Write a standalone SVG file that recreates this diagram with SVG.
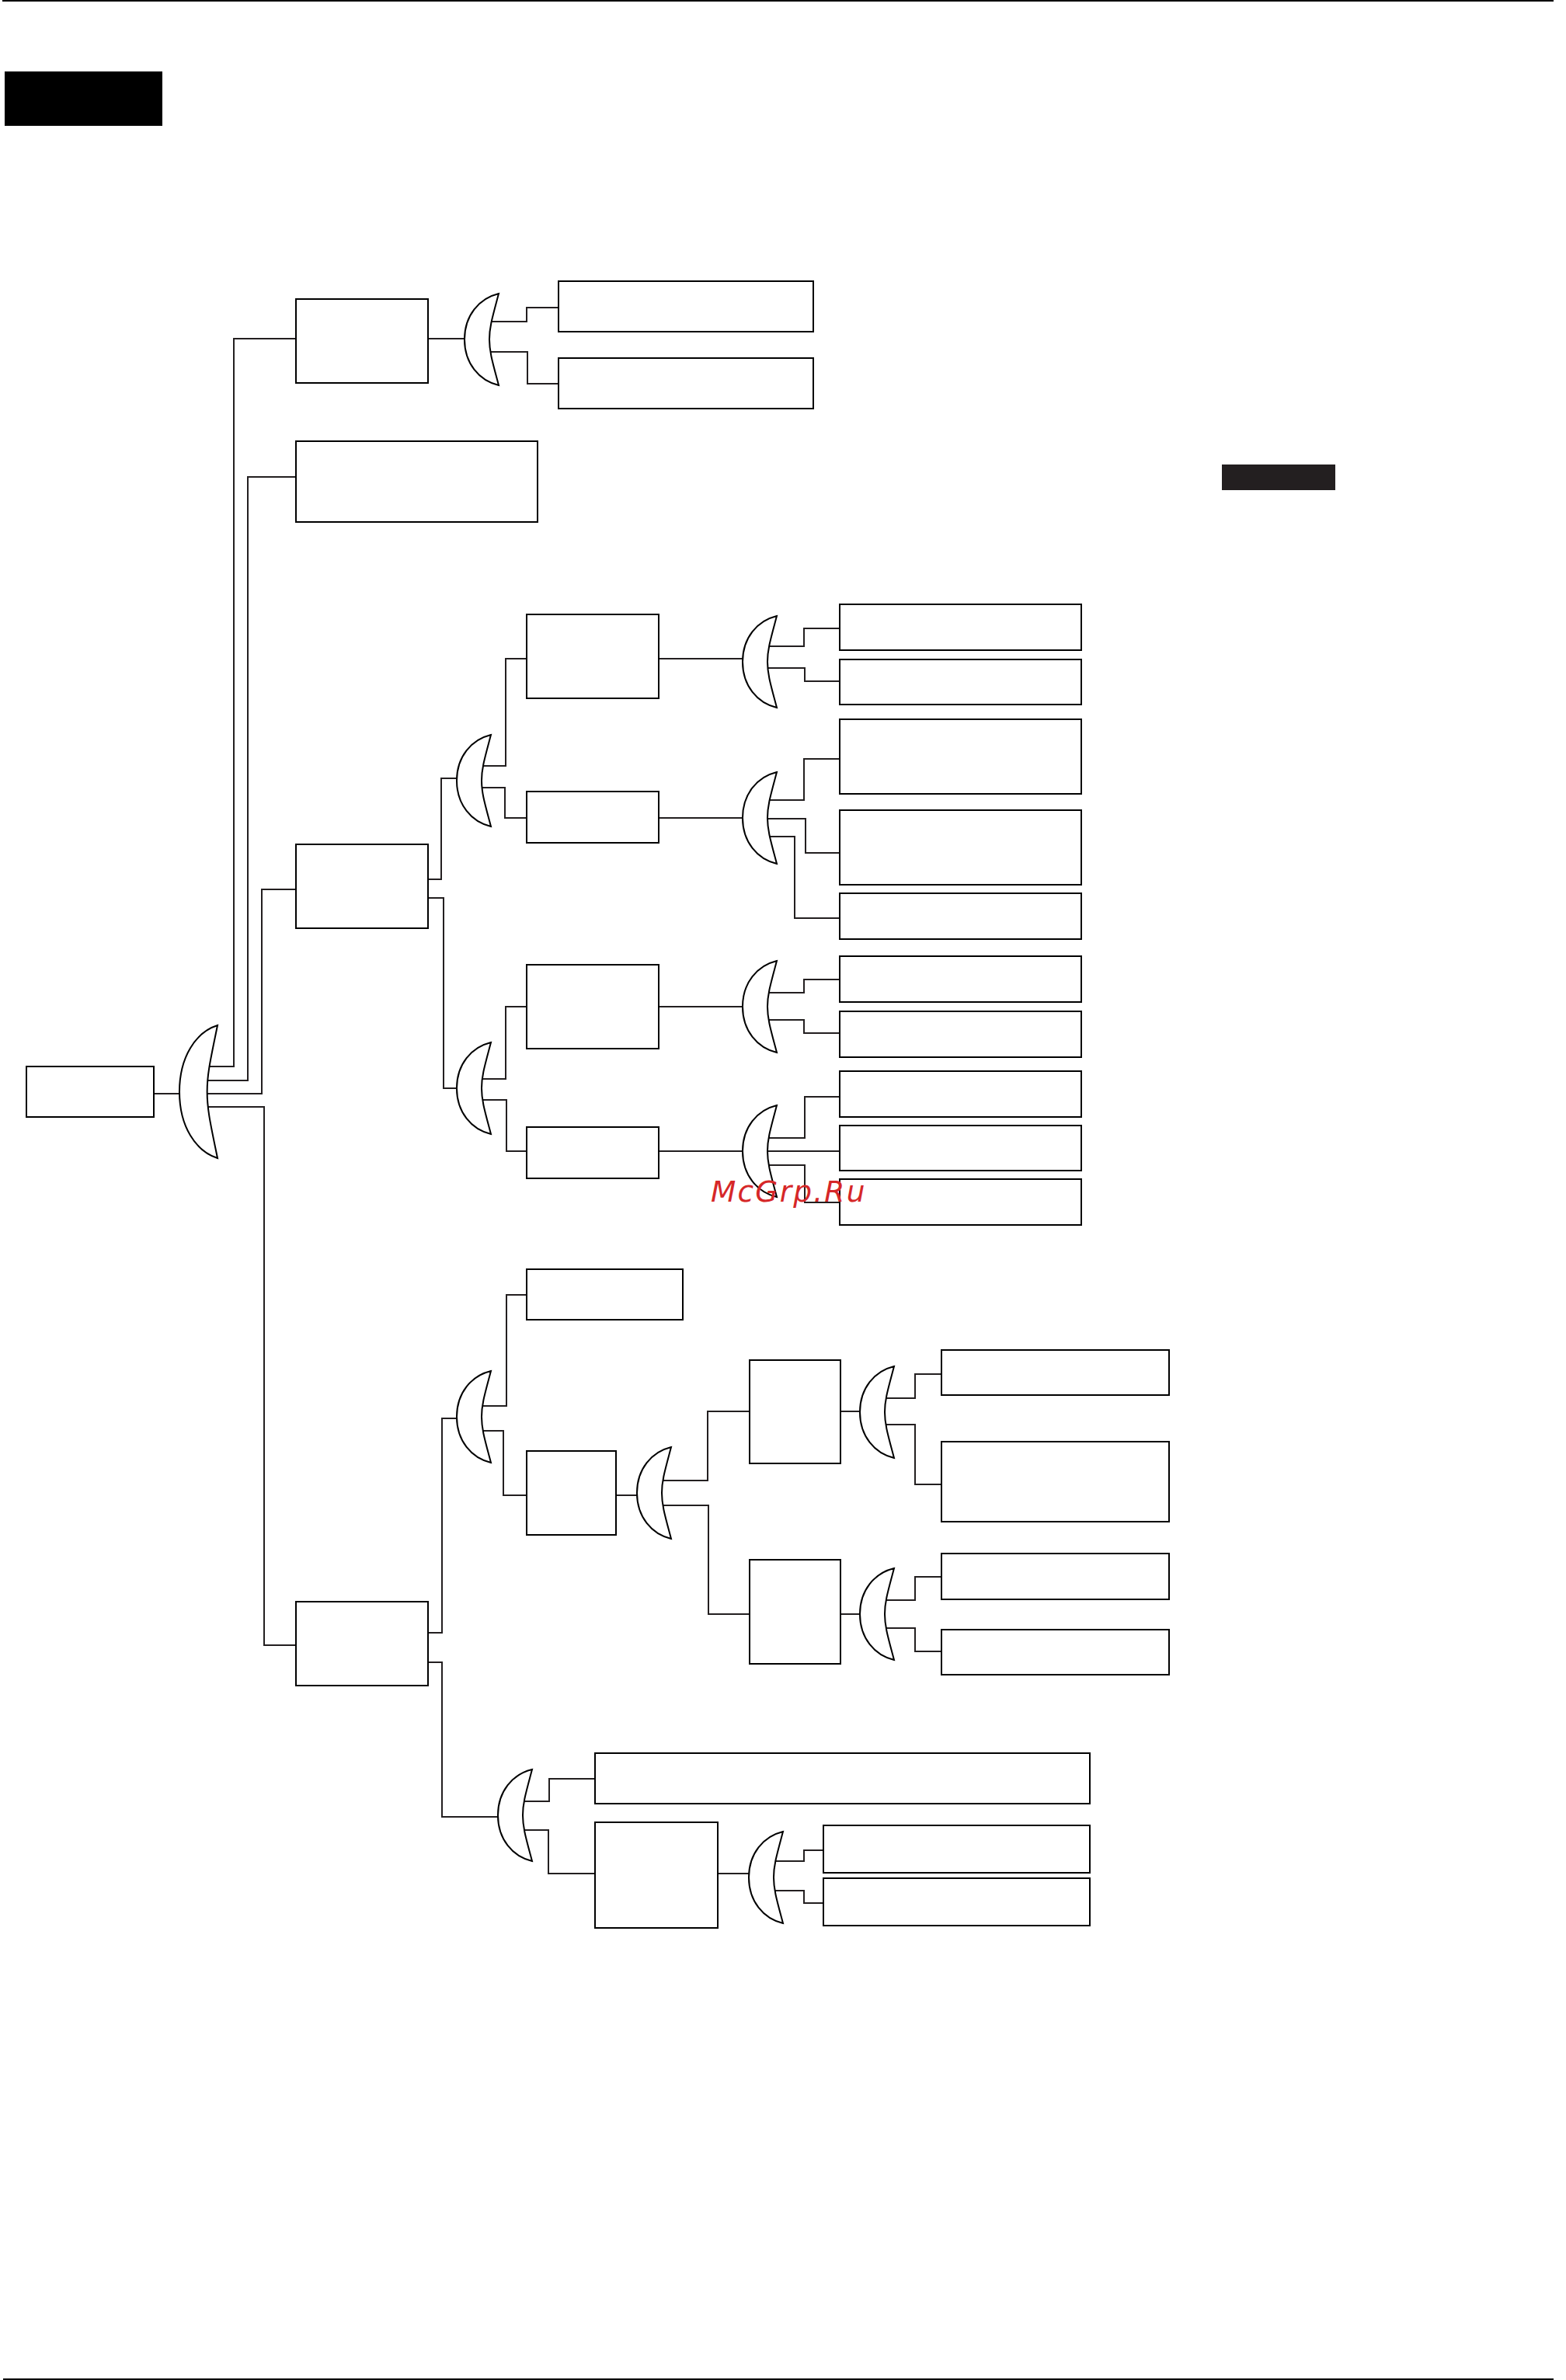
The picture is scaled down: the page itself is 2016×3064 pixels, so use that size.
<svg xmlns="http://www.w3.org/2000/svg" width="2016" height="3064" viewBox="0 0 2016 3064">
<style>
.n{fill:#fff;stroke:#000;stroke-width:2}
.c{fill:none;stroke:#231f20;stroke-width:2}
.l{fill:#fff;stroke:#000;stroke-width:2;vector-effect:non-scaling-stroke}
.k{fill:#000}
.w{font-family:"DejaVu Sans",sans-serif;font-style:oblique;font-size:37.5px;fill:#d62728;letter-spacing:2.2px}
</style>
<defs>
<path id="lens" class="l" d="M44,0C19,6 0,28 0,59C0,90 19,112 44,118C36,88 32,75 32,59C32,43 36,30 44,0Z"/>
</defs>
<rect width="2016" height="3064" fill="#fff"/>
<rect class="k" x="3" y="0" width="1997" height="2"/>
<rect class="k" x="4" y="3062" width="1996" height="2"/>
<g id="connectors">
<path class="c" d="M198,1408H232"/>
<path class="c" d="M268,1373H301V436H381"/>
<path class="c" d="M266,1391H319V614H381"/>
<path class="c" d="M266,1408H337V1145H381"/>
<path class="c" d="M267,1425H340V2118H381"/>
<path class="c" d="M551,436H598"/>
<path class="c" d="M632,414H678V396H719"/>
<path class="c" d="M632,453H679V494H719"/>
<path class="c" d="M551,1132H568V1002H589"/>
<path class="c" d="M621,986H651V848H678"/>
<path class="c" d="M621,1014H650V1053H678"/>
<path class="c" d="M848,848H957"/>
<path class="c" d="M848,1053H957"/>
<path class="c" d="M989,832H1035V809H1081"/>
<path class="c" d="M989,860H1036V877H1081"/>
<path class="c" d="M989,1030H1035V977H1081"/>
<path class="c" d="M989,1054H1037V1098H1081"/>
<path class="c" d="M989,1077H1023V1182H1081"/>
<path class="c" d="M551,1156H571V1401H589"/>
<path class="c" d="M621,1389H651V1296H678"/>
<path class="c" d="M621,1416H652V1482H678"/>
<path class="c" d="M848,1296H957"/>
<path class="c" d="M848,1482H957"/>
<path class="c" d="M989,1278H1035V1261H1081"/>
<path class="c" d="M989,1313H1035V1330H1081"/>
<path class="c" d="M989,1465H1036V1412H1081"/>
<path class="c" d="M989,1482H1081"/>
<path class="c" d="M989,1500H1036V1548H1081"/>
<path class="c" d="M551,2102H569V1826H589"/>
<path class="c" d="M621,1810H652V1667H678"/>
<path class="c" d="M621,1842H648V1925H678"/>
<path class="c" d="M793,1925H821"/>
<path class="c" d="M853,1906H911V1817H965"/>
<path class="c" d="M853,1938H912V2078H965"/>
<path class="c" d="M1082,1817H1108"/>
<path class="c" d="M1082,2078H1108"/>
<path class="c" d="M1140,1800H1178V1769H1212"/>
<path class="c" d="M1140,1834H1178V1911H1212"/>
<path class="c" d="M1140,2060H1178V2030H1212"/>
<path class="c" d="M1140,2096H1178V2126H1212"/>
<path class="c" d="M551,2140H569V2339H641"/>
<path class="c" d="M674,2319H707V2290H766"/>
<path class="c" d="M674,2356H706V2412H766"/>
<path class="c" d="M924,2412H965"/>
<path class="c" d="M997,2396H1035V2382H1060"/>
<path class="c" d="M997,2434H1035V2450H1060"/>
</g>
<g id="title-block"><rect class="k" x="6" y="92" width="203" height="70"/></g>
<g id="side-block"><rect x="1573" y="598" width="146" height="33" fill="#231f20"/></g>
<g id="root"><rect class="n" x="34" y="1373" width="164" height="65"/></g>
<g id="lens-root"><use href="#lens" transform="translate(231,1320) scale(1.114,1.449)"/></g>
<g id="n1"><rect class="n" x="381" y="385" width="170" height="108"/></g>
<g id="lens-1"><use href="#lens" transform="translate(598,378)"/></g>
<g id="n1a"><rect class="n" x="719" y="362" width="328" height="65"/></g>
<g id="n1b"><rect class="n" x="719" y="461" width="328" height="65"/></g>
<g id="n2"><rect class="n" x="381" y="568" width="311" height="104"/></g>
<g id="n3"><rect class="n" x="381" y="1087" width="170" height="108"/></g>
<g id="lens-3a"><use href="#lens" transform="translate(588,946)"/></g>
<g id="n3a"><rect class="n" x="678" y="791" width="170" height="108"/></g>
<g id="lens-3a1"><use href="#lens" transform="translate(956,793)"/></g>
<g id="n3a1"><rect class="n" x="1081" y="778" width="311" height="59"/></g>
<g id="n3a2"><rect class="n" x="1081" y="849" width="311" height="58"/></g>
<g id="n3b"><rect class="n" x="678" y="1019" width="170" height="66"/></g>
<g id="lens-3b"><use href="#lens" transform="translate(956,994)"/></g>
<g id="n3b1"><rect class="n" x="1081" y="926" width="311" height="96"/></g>
<g id="n3b2"><rect class="n" x="1081" y="1043" width="311" height="96"/></g>
<g id="n3b3"><rect class="n" x="1081" y="1150" width="311" height="59"/></g>
<g id="lens-3c"><use href="#lens" transform="translate(588,1342)"/></g>
<g id="n3c"><rect class="n" x="678" y="1242" width="170" height="108"/></g>
<g id="lens-3c1"><use href="#lens" transform="translate(956,1237)"/></g>
<g id="n3c1"><rect class="n" x="1081" y="1231" width="311" height="59"/></g>
<g id="n3c2"><rect class="n" x="1081" y="1302" width="311" height="59"/></g>
<g id="n3d"><rect class="n" x="678" y="1451" width="170" height="66"/></g>
<g id="lens-3d"><use href="#lens" transform="translate(956,1423)"/></g>
<g id="n3d1"><rect class="n" x="1081" y="1379" width="311" height="59"/></g>
<g id="n3d2"><rect class="n" x="1081" y="1449" width="311" height="58"/></g>
<g id="n3d3"><rect class="n" x="1081" y="1518" width="311" height="59"/></g>
<g id="n4"><rect class="n" x="381" y="2062" width="170" height="108"/></g>
<g id="lens-4a"><use href="#lens" transform="translate(588,1765)"/></g>
<g id="n4a"><rect class="n" x="678" y="1634" width="201" height="65"/></g>
<g id="n4b"><rect class="n" x="678" y="1868" width="115" height="108"/></g>
<g id="lens-4b"><use href="#lens" transform="translate(820,1863)"/></g>
<g id="n4c"><rect class="n" x="965" y="1751" width="117" height="133"/></g>
<g id="lens-4c"><use href="#lens" transform="translate(1107,1759)"/></g>
<g id="n4c1"><rect class="n" x="1212" y="1738" width="293" height="58"/></g>
<g id="n4c2"><rect class="n" x="1212" y="1856" width="293" height="103"/></g>
<g id="n4d"><rect class="n" x="965" y="2008" width="117" height="134"/></g>
<g id="lens-4d"><use href="#lens" transform="translate(1107,2019)"/></g>
<g id="n4d1"><rect class="n" x="1212" y="2000" width="293" height="59"/></g>
<g id="n4d2"><rect class="n" x="1212" y="2098" width="293" height="58"/></g>
<g id="lens-4e"><use href="#lens" transform="translate(641,2278)"/></g>
<g id="n4e"><rect class="n" x="766" y="2257" width="637" height="65"/></g>
<g id="n4f"><rect class="n" x="766" y="2346" width="158" height="136"/></g>
<g id="lens-4f"><use href="#lens" transform="translate(964,2358)"/></g>
<g id="n4f1"><rect class="n" x="1060" y="2350" width="343" height="61"/></g>
<g id="n4f2"><rect class="n" x="1060" y="2418" width="343" height="61"/></g>
<text class="w" x="915" y="1547">McGrp.Ru</text>
</svg>
